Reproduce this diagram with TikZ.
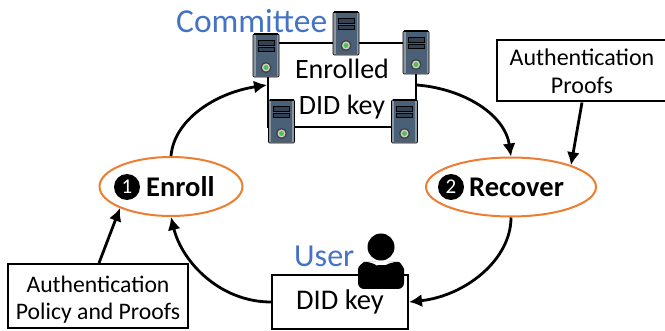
\documentclass[tikz,border=0pt]{standalone}
\usepackage{fontspec}
\setmainfont{Carlito}
\usetikzlibrary{arrows.meta,shapes.geometric}
\definecolor{ctitle}{HTML}{4472C4}
\definecolor{corange}{HTML}{ED7D31}
\definecolor{srvbody}{HTML}{4A6076}
\definecolor{srvside}{HTML}{8E979F}
\tikzset{
  x=1pt,y=-1pt,
  fs/.style={font=\fontsize{#1}{#1}\selectfont},
  flow/.style={line width=2.8pt,-{Latex[length=13pt,width=13pt]}},
  plainbox/.style={draw=black,line width=2pt,align=center,inner sep=0pt,fill=white},
  phase/.style={draw=corange,line width=2pt,shape=ellipse,inner sep=0pt,minimum height=59pt},
  badge/.style={circle,fill=black,text=white,minimum size=26pt,inner sep=0pt,fs=21},
  label/.style={anchor=west,inner sep=0pt,fs=28.5},
  title/.style={text=ctitle,inner sep=0pt,anchor=base west},
  pics/server/.style={code={
    \node[minimum width=26pt,minimum height=43pt,inner sep=0pt] (-b) {};
    \fill[srvside,draw=black,line width=0.6pt,rounded corners=1pt] (-13,-21.5) rectangle (13,21.5);
    \fill[srvbody] (-10.5,-21) rectangle (10.5,21);
    \draw[black,line width=1.2pt] (-12,-21.5) -- (12,-21.5);
    \fill[srvbody!70!black,draw=black,line width=0.6pt] (-8,-15) rectangle (8,-10.5);
    \fill[srvbody!70!black,draw=black,line width=0.6pt] (-8,-8.5) rectangle (8,-4);
    \fill[black!75] (0,12) circle (5.5pt);
    \fill[white!80!black] (0,12) circle (4pt);
    \fill[green!65!black!70!white] (0,12) circle (2.4pt);
  }}
}
\begin{document}
\begin{tikzpicture}
\useasboundingbox (0,0) rectangle (665,331);
\node[plainbox,minimum width=148pt,minimum height=84pt,fs=28] (committee) at (342,85) {\rule{0pt}{28pt}Enrolled\\[8pt]DID key};
\pic (s1) at (266,55.5) {server};
\pic (s2) at (346,33.5) {server};
\pic (s3) at (416,52.5) {server};
\pic (s4) at (281.5,121.5) {server};
\pic (s5) at (404.5,121.5) {server};
\node[title,fs=33.5] (ctitle) at (176,33) {Committee};
\node[phase,minimum width=143pt] (enroll) at (171,186.5) {};
\node[phase,minimum width=170pt] (recover) at (511,187) {};
\node[badge] (n1) at (127,187) {1};
\node[badge] (n2) at (451,187) {2};
\node[label] (t1) at (146,187) {\textbf{Enroll}};
\node[label] (t2) at (469,187) {\textbf{Recover}};
\node[plainbox,minimum width=136pt,minimum height=54pt,fs=28.5] (did) at (340,302) {DID key};
\node[plainbox,minimum width=170pt,minimum height=61pt,fs=24] (proofs) at (582,71) {Authentication\\[4pt]Proofs};
\node[plainbox,minimum width=180pt,minimum height=64pt,fs=23.7] (policy) at (98,296) {\rule{0pt}{24pt}Authentication\\[4pt]Policy and Proofs};
\node[title,fs=32] (utitle) at (294,267) {User};
% person
\fill[black] (381,247) circle (13.5pt);
\fill[black,rounded corners=6pt] (358,289) -- (358,275) .. controls (358,266) and (364,262) .. (370,262) -- (372,262) .. controls (376,265) and (386,265) .. (391,262) -- (393,262) .. controls (400,262) and (404,268) .. (404,275) -- (404,289) -- cycle;
% connectors
\draw[flow] (enroll.north) .. controls (174,120) and (215,93) .. (committee.west);
\draw[flow] (committee.east) .. controls (465,89) and (505,115) .. (recover.north);
\draw[flow] (recover.south) .. controls (511,260) and (465,296) .. (did.east);
\draw[flow] (did.west) .. controls (220,302) and (182,262) .. (enroll.south);
\draw[flow] (proofs.south) -- (recover.20);
\draw[flow] ([xshift=1pt]policy.north) -- (enroll.203);
\end{tikzpicture}
\end{document}
